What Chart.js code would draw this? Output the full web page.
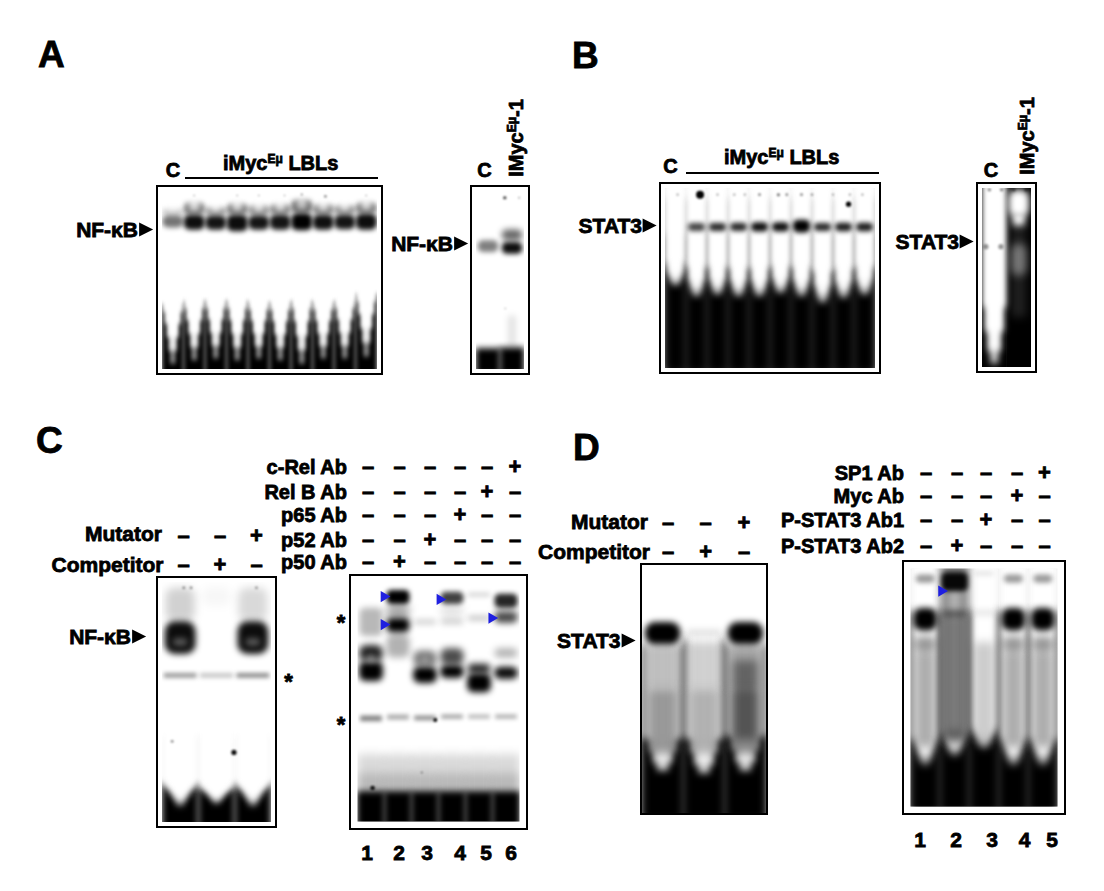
<!DOCTYPE html>
<html>
<head>
<meta charset="utf-8">
<script src="https://cdn.jsdelivr.net/npm/chart.js@4.4.1/dist/chart.umd.min.js"></script>
<style>
  body { margin: 0; background: #fff; }
  #fig { position: relative; width: 1104px; height: 891px; overflow: hidden;
         font-family: "Liberation Sans", Arial, Helvetica, sans-serif; font-weight: bold; color: #000; }
  .gel { position: absolute; border: 2px solid #000; box-sizing: border-box; background: #fff; overflow: hidden; }
  .gel canvas { display: block; }
  .t { position: absolute; white-space: nowrap; line-height: 1; -webkit-text-stroke: 0.8px #000; }
  .t sup { font-size: 0.6em; vertical-align: 0; position: relative; top: -0.55em; line-height: 0; }
  .tri { display: inline-block; width: 0; height: 0; border-left: 14px solid #000;
         border-top: 7.5px solid transparent; border-bottom: 7.5px solid transparent; margin-left: 1px; }
  .rule { position: absolute; height: 2px; background: #000; }
</style>
</head>
<body>
<div id="fig"></div>
<script>
// gel rows are [top, bottom, signal] in % of gel length from the wells, one per lane (null = nothing)

// ---- A: NF-kB in iMycEu LBLs ----
var aLanes = ['C', '1', '2', '3', '4', '5', '6', '7', '8', '9'];
var aNfkb = [[13.8, 20.5, 0.55], [13.3, 21.8, 0.95], [13.8, 21.8, 0.92], [13.3, 22.6, 0.95], [13.8, 21.8, 0.92],
             [13.3, 21.8, 0.92], [12.5, 22.0, 1], [13.3, 21.8, 0.94], [13.3, 21.5, 0.92], [12.8, 21.8, 0.95]];
var aNfkbSmear = [[10, 13.8, 0.2], [6.5, 13.3, 0.55], [9, 13.8, 0.4], [7, 13.3, 0.55], [8, 13.8, 0.45],
                  [7.5, 13.3, 0.5], [5, 12.5, 0.6], [7.5, 13.3, 0.5], [8, 13.3, 0.45], [6.5, 12.8, 0.55]];
var aSmileGap = [[3, 12.5, 0.5], [3, 11.5, 0.8], [3, 12, 0.8], [3, 11.5, 0.8], [3, 12, 0.8],
                 [3, 11.5, 0.8], [3, 10.5, 0.7], [3, 11.5, 0.8], [3, 11.5, 0.8], [3, 11, 0.8]];
var aProbeSpike = [64, 62, 62, 62, 63, 63, 62, 63, 62, 58];
var aProbeFront = [97, 95, 94, 95, 94, 95, 97, 94, 94, 93];
var aSpecks = [[1, 2.5, 0.8, 0.4], [3, 2.5, 0.8, 0.4], [4, 2.5, 0.8, 0.4], [5.2, 2.5, 0.8, 0.4], [6, 2, 1, 0.5], [7.1, 3, 1.2, 0.6], [9, 2.5, 0.8, 0.4]];

var a2Lanes = ['C', 'iMycEu-1'];
var a2Upper = [null, [21.6, 27.8, 0.6]];
var a2Lower = [[27.7, 34.2, 0.5], [28.7, 35.2, 0.95]];
var a2Smear = [null, [70, 88, 0.12]];
var a2Floor = [88.5, 88];
var a2Specks = [[0.7, 3.8, 1.6, 0.8], [1.3, 3.8, 0.9, 0.4], [0.72, 66, 0.7, 0.4]];

// ---- B: STAT3 in iMycEu LBLs ----
var bLanes = ['C', '1', '2', '3', '4', '5', '6', '7', '8', '9'];
var bStat3 = [null, [19.5, 23.9, 0.75], [19.5, 23.9, 0.85], [19.3, 23.9, 0.85], [19, 24.2, 0.95],
              [19, 24.2, 0.95], [17.7, 24.7, 1], [19.5, 23.9, 0.85], [19.3, 24, 0.9], [19.3, 24, 0.9]];
var bGrayTop = [6, 6, 6, 6, 6, 6, 6, 6, 6, 6];
var bDarkTop = [26, 24, 25, 25, 25, 25, 24, 25, 25, 25];
var bBlackTop = [44, 46, 45, 46, 46, 45, 46, 48, 46, 45];
var bFront = [53.7, 59.8, 58.9, 59.8, 59.8, 58, 59.8, 63.3, 60.7, 58.9];
var bSpecks = [[1.17, 3.7, 4, 1], [0.1, 3.7, 1.1, 0.4], [2, 3.7, 1.1, 0.4], [2.8, 3.7, 1.1, 0.4], [3.3, 3.7, 1.1, 0.4],
               [4, 3.7, 1.3, 0.5], [4.9, 3.7, 1.5, 0.6], [5.3, 3.7, 1.3, 0.5], [6, 3.7, 1.3, 0.5], [6.5, 3.7, 1.3, 0.4],
               [7.5, 3.7, 1.1, 0.4], [8.3, 3.7, 1.1, 0.4], [8.9, 3.7, 1.1, 0.4], [8.24, 9, 2.6, 1]];

var b2Lanes = ['C', 'iMycEu-1'];
var b2Front = [98, null];
var b2Top = [null, [1, 16, 1]];
var b2Neck = [null, [14, 21, 1]];
var b2Blob = [null, [31, 49, 0.4]];
var b2Trail = [null, [20, 72, 0.12]];
var b2Specks = [[-0.34, 32.8, 2.6, 0.4], [0.27, 32.8, 2.6, 0.4], [-0.2, 1, 1.8, 0.45], [0.3, 1, 1.8, 0.45], [0.8, 1, 1.8, 0.45], [1.3, 1, 1.8, 0.45]];

// ---- C: NF-kB competition / supershift ----
var cLanes = ['1', '2', '3'];
var cMutator = '--+';
var cCompetitor = '-+-';
var cBand = [[16.4, 30, 0.95], null, [16.4, 30, 0.95]];
var cBandCore = [[23.5, 26.5, 0.35], null, [23.5, 26.5, 0.35]];
var cSmear = [[2.4, 16.4, 0.18], [2, 10, 0.03], [2.4, 16.4, 0.15]];
var cFaint = [[37.9, 39.9, 0.4], [37.9, 39.9, 0.22], [37.9, 39.9, 0.45]];
var cProbeSpike = [84, 85, 84];
var cProbeFront = [93, 92, 93];
var cSpecks = [[1.48, 71, 2.6, 0.95], [-0.22, 66.4, 1.2, 0.6], [0.1, 2.4, 1.3, 0.5], [0.3, 2.4, 1.3, 0.5], [2.1, 2.4, 1.3, 0.45]];

var crLanes = ['1', '2', '3', '4', '5', '6'];
var crAbNames = ['c-Rel Ab', 'Rel B Ab', 'p65 Ab', 'p52 Ab', 'p50 Ab'];
var crAbSigns = ['-----+', '----+-', '---+--', '--+---', '-+----'];
var crTopBand = [null, [3.1, 9, 1], null, [3.9, 9, 0.75], [4.3, 5.9, 0.18], [4.7, 10.6, 0.85]];
var crUpperSmear = [null, [9, 14.9, 0.35], null, [9, 15, 0.1], null, [10.6, 12.2, 0.3]];
var crUpper = [[10.6, 22.4, 0.28], [14.9, 20.8, 1], [15.7, 17.3, 0.25], [15.7, 17.3, 0.25], [14.1, 15.7, 0.3], [12.2, 16.9, 0.7]];
var crMainUpper = [[26.3, 33, 0.9], [21.6, 31.4, 0.3], [28.6, 35.3, 0.55], [27.5, 34.5, 0.7], [34.1, 38, 0.9], [27.5, 31.4, 0.3]];
var crMainLower = [[33, 41.2, 1], null, [35.3, 42, 1], [34.5, 40, 1], [38, 45.9, 1], [35.3, 40.4, 0.95]];
var crMainCore = [[30, 33.5, 0.4], null, [31, 34, 0.3], null, null, null];
var crFaint = [[55.7, 58, 0.5], [55.3, 57.3, 0.35], [55.7, 57.6, 0.45], [55.3, 56.9, 0.4], [55.3, 56.9, 0.3], [55.3, 56.9, 0.35]];
var crHaze = [72, 72, 72, 72, 72, 72];
var crFloor = [87.5, 87.5, 87.5, 87.5, 87.5, 87.5];
var crArrows = [[0.48, 5.9], [0.48, 17.6], [2.55, 7.1], [4.47, 14.9]];
var crSpecks = [[2.38, 57.5, 2, 0.95], [0.06, 86, 2.3, 0.9], [1.88, 79.5, 1, 0.5]];
var crNumbers = ['1', '2', '3', '4', '5', '6'];

// ---- D: STAT3 competition / supershift ----
var dLanes = ['1', '2', '3'];
var dMutator = '--+';
var dCompetitor = '-+-';
var dBand = [[23, 32, 1], [26, 28.5, 0.12], [23, 32, 1]];
var dSmearHigh = [[32, 50, 0.25], [31, 50, 0.18], [32, 50, 0.35]];
var dSmearLow = [[50, 76, 0.4], [50, 76, 0.3], [50, 76, 0.45]];
var dSmearDark = [null, null, [38.4, 70.4, 0.4]];
var dGrayTop = [32, 30, 32];
var dProbeSpike = [70, 70, 69];
var dProbeFront = [83, 84, 83];

var drLanes = ['1', '2', '3', '4', '5'];
var drAbNames = ['SP1 Ab', 'Myc Ab', 'P-STAT3 Ab1', 'P-STAT3 Ab2'];
var drAbSigns = ['----+', '---+-', '--+--', '-+---'];
var drDarkTop = [18, 18, 18, 18, 18];
var drProbeSpike = [72, 70, 68, 72, 72];
var drProbeFront = [82, 78, 75, 82, 82];
var drLane2Dark = [null, [-3, 72, 0.5], null, null, null];
var drLane2Core = [null, [8, 68, 0.5], null, null, null];
var drWells = [[2.5, 6, 0.4], null, [1, 3, 0.1], [2.5, 6, 0.4], [2.5, 6, 0.4]];
var drTop = [null, [1.6, 9.5, 0.95], null, null, null];
var drBand = [[16.6, 26, 1], [17.4, 20.5, 0.45], [17.4, 19.8, 0.1], [16.6, 26, 1], [16.6, 26, 1]];
var drBand2 = [[28.5, 35, 0.4], null, null, [28.5, 35, 0.4], [28.5, 35, 0.4]];
var drSmear = [[35, 75, 0.32], [20, 74, 0.3], [31, 74, 0.2], [35, 75, 0.32], [35, 75, 0.32]];
var drArrows = [[0.555, 9.5]];
var drNumbers = ['1', '2', '3', '4', '5'];

// ------------------------------------------------------------------
var fig = document.getElementById('fig');

function shade(white, a) {
  return (white ? 'rgba(255,255,255,' : 'rgba(0,0,0,') + a + ')';
}

function layer(rows, o) {
  o = o || {};
  return {
    type: 'bar', xAxisID: 'x', yAxisID: 'y',
    data: rows.map(function (r) { return r ? [r[0], r[1]] : null; }),
    backgroundColor: rows.map(function (r) { return r ? shade(o.white, r[2]) : 'rgba(0,0,0,0)'; }),
    grouped: false, categoryPercentage: 1, barPercentage: o.w || 0.82,
    borderWidth: 0, borderSkipped: false, borderRadius: o.r || 0,
    blur: o.blur === undefined ? 2.5 : o.blur
  };
}

// a slab reaching past the bottom of the gel
function slab(tops, a, blur) {
  return layer(tops.map(function (t) { return t === null ? null : [t, 103, a]; }), { w: 1, blur: blur });
}

// lighter lane columns that narrow into a V where the free probe starts
function columns(spike, front, taper, a, blur) {
  return taper.map(function (tp) {
    return layer(spike.map(function (s, i) {
      return front[i] === null ? null : [-3, s + tp[1] * (front[i] - s), a];
    }), { w: tp[0], white: true, blur: blur });
  });
}

function specks(pts) {
  return {
    type: 'scatter', xAxisID: 'x2', yAxisID: 'y',
    data: pts.map(function (p) { return { x: p[0], y: p[1] }; }),
    pointRadius: pts.map(function (p) { return p[2]; }),
    backgroundColor: pts.map(function (p) { return 'rgba(0,0,0,' + p[3] + ')'; }),
    borderWidth: 0, blur: 0.8
  };
}

function arrows(pts) {
  return {
    type: 'scatter', xAxisID: 'x2', yAxisID: 'y',
    data: pts.map(function (p) { return { x: p[0], y: p[1] }; }),
    pointStyle: 'triangle', rotation: 90, pointRadius: 6.5,
    backgroundColor: '#1f1fe0', borderWidth: 0
  };
}

var blurPlugin = {
  id: 'gelBlur',
  beforeDatasetDraw: function (chart, args) {
    var ds = chart.data.datasets[args.index];
    chart.ctx.save();
    if (ds.blur) chart.ctx.filter = 'blur(' + ds.blur + 'px)';
  },
  afterDatasetDraw: function (chart) { chart.ctx.restore(); }
};

function gel(box, lanes, sets) {
  var wrap = document.createElement('div');
  wrap.className = 'gel';
  wrap.style.left = box[0] + 'px';
  wrap.style.top = box[1] + 'px';
  wrap.style.width = box[2] + 'px';
  wrap.style.height = box[3] + 'px';
  var cv = document.createElement('canvas');
  cv.width = box[2] - 4;
  cv.height = box[3] - 4;
  wrap.appendChild(cv);
  fig.appendChild(wrap);
  // first set is painted first
  sets.forEach(function (d, i) { d.order = sets.length - i; });
  new Chart(cv, {
    type: 'bar',
    data: { labels: lanes, datasets: sets },
    options: {
      responsive: false, animation: false, events: [],
      layout: { padding: 0 },
      plugins: { legend: { display: false }, tooltip: { enabled: false } },
      scales: {
        x: { type: 'category', display: false, offset: true },
        x2: { type: 'linear', display: false, offset: false, min: -0.5, max: lanes.length - 0.5 },
        y: { type: 'linear', display: false, min: 0, max: 100, reverse: true }
      }
    },
    plugins: [blurPlugin]
  });
}

var V5 = [[0.92, 0.12], [0.72, 0.32], [0.5, 0.55], [0.3, 0.78], [0.14, 1]];

// A
gel([156, 185, 227, 190], aLanes, [].concat(
  slab(aProbeSpike, 1, 2.4),
  columns(aProbeSpike, aProbeFront, V5, 1, 2.4),
  layer(aNfkbSmear, { w: 0.96, r: 5, blur: 2.5 }),
  layer(aSmileGap, { w: 0.5, white: true, r: 6, blur: 3 }),
  layer(aNfkb, { w: 0.98, r: 6, blur: 2.4 }),
  specks(aSpecks)
));
gel([470, 185, 60, 190], a2Lanes, [].concat(
  layer(a2Smear, { w: 0.3, blur: 3 }),
  slab(a2Floor, 1, 3),
  layer(a2Upper, { w: 0.85, r: 5, blur: 3 }),
  layer(a2Lower, { w: 0.85, r: 5, blur: 2.6 }),
  specks(a2Specks)
));

// B
gel([659, 182, 222, 192], bLanes, [].concat(
  slab(bLanes.map(function () { return -3; }), 0.07, 0),
  slab(bGrayTop, 0.3, 4),
  slab(bDarkTop, 0.6, 5),
  slab(bBlackTop, 1, 5),
  columns(bDarkTop, bFront, [[0.85, 0.55], [0.7, 0.78], [0.5, 0.9], [0.3, 1]], 1, 3.5),
  layer(bStat3, { w: 0.82, r: 5, blur: 2.4 }),
  specks(bSpecks)
));
gel([976, 182, 61, 191], b2Lanes, [].concat(
  slab([-3, -3], 1, 0),
  columns([0, 0], b2Front, [[0.9, 0.68], [0.72, 0.82], [0.5, 0.93], [0.28, 1]], 1, 3.5),
  layer(b2Trail, { w: 0.6, white: true, blur: 4 }),
  layer(b2Top, { w: 0.85, white: true, r: 8, blur: 3.5 }),
  layer(b2Neck, { w: 0.5, white: true, blur: 3.5 }),
  layer(b2Blob, { w: 0.65, white: true, r: 10, blur: 4.5 }),
  specks(b2Specks)
));

// C
gel([156, 576, 121, 252], cLanes, [].concat(
  slab([64, 64, 64], 0.05, 5),
  slab(cProbeSpike, 1, 3.5),
  columns(cProbeSpike, cProbeFront, V5, 1, 3.5),
  layer(cSmear, { w: 0.8, r: 8, blur: 4.5 }),
  layer(cBand, { w: 0.85, r: 10, blur: 3.2 }),
  layer(cBandCore, { w: 0.4, white: true, r: 4, blur: 3 }),
  layer(cFaint, { w: 0.9, blur: 2 }),
  specks(cSpecks)
));
gel([349, 574, 179, 256], crLanes, [].concat(
  slab(crHaze, 0.15, 5),
  slab(crHaze.map(function (h) { return h + 8; }), 0.15, 5),
  slab(crFloor, 1, 3),
  layer(crUpperSmear, { w: 0.8, blur: 4 }),
  layer(crTopBand, { w: 0.85, r: 5, blur: 2.6 }),
  layer(crUpper, { w: 0.85, r: 5, blur: 3 }),
  layer(crMainUpper, { w: 0.85, r: 6, blur: 3.5 }),
  layer(crMainLower, { w: 0.88, r: 6, blur: 3 }),
  layer(crMainCore, { w: 0.35, white: true, r: 4, blur: 3 }),
  layer(crFaint, { w: 0.8, blur: 2 }),
  specks(crSpecks),
  arrows(crArrows)
));

// D
gel([640, 563, 128, 252], dLanes, [].concat(
  slab(dGrayTop, 0.6, 5),
  slab(dProbeSpike, 1, 4),
  columns(dProbeSpike, dProbeFront, [[0.82, 0], [0.66, 0.4], [0.48, 0.75], [0.28, 1]], 0.8, 3.5),
  layer(dSmearHigh, { w: 0.78, blur: 4 }),
  layer(dSmearLow, { w: 0.74, blur: 5 }),
  layer(dSmearDark, { w: 0.6, blur: 5 }),
  layer(dBand, { w: 0.86, r: 10, blur: 3 })
));
gel([902, 560, 164, 255], drLanes, [].concat(
  slab(drLanes.map(function () { return -3; }), 0.06, 0),
  slab(drDarkTop, 0.7, 5),
  slab(drProbeSpike, 1, 5),
  columns(drProbeSpike, drProbeFront, [[0.75, 0], [0.6, 0.35], [0.42, 0.7], [0.22, 1]], 1, 4),
  layer(drLane2Dark, { w: 0.95, blur: 4 }),
  layer(drLane2Core, { w: 0.35, white: true, blur: 5 }),
  layer(drSmear, { w: 0.7, blur: 5 }),
  layer(drWells, { w: 0.65, r: 5, blur: 2.4 }),
  layer(drTop, { w: 0.9, r: 5, blur: 2.6 }),
  layer(drBand, { w: 0.8, r: 8, blur: 3 }),
  layer(drBand2, { w: 0.75, r: 6, blur: 4 }),
  arrows(drArrows)
));

// ---- text ----
function put(html, x, y, size, anchor, extra) {
  var el = document.createElement('div');
  el.className = 't';
  el.innerHTML = html;
  el.style.left = x + 'px';
  el.style.top = y + 'px';
  el.style.fontSize = size + 'px';
  var tx = anchor === 'r' ? '-100%' : anchor === 'c' ? '-50%' : '0';
  el.style.transform = 'translate(' + tx + ',-50%)' + (extra || '');
  fig.appendChild(el);
}
function rule(x0, x1, y) {
  var el = document.createElement('div');
  el.className = 'rule';
  el.style.left = x0 + 'px';
  el.style.top = (y - 1) + 'px';
  el.style.width = (x1 - x0) + 'px';
  fig.appendChild(el);
}
function signs(str, xs, y) {
  str.split('').forEach(function (s, i) { put(s === '-' ? '–' : '+', xs[i], y, 22, 'c'); });
}
var arrowHead = '<span class="tri"></span>';
var header = 'iMyc<sup>Eμ</sup> LBLs';
var vertical = 'IMyc<sup>Eμ</sup>-1';

put('A', 38, 53.5, 37, 'l');
put('B', 572, 54.5, 37, 'l');
put('C', 36, 440, 37, 'l');
put('D', 573, 446.5, 37, 'l');

// A
put(aLanes[0], 173, 170, 20, 'c');
put(header, 223, 162.5, 20, 'l');
rule(185, 378, 178);
put('NF-κB' + arrowHead, 153, 228.5, 21, 'r');
put('NF-κB' + arrowHead, 468, 242.5, 21, 'r');
put(a2Lanes[0], 484.5, 170, 20, 'c');
put(vertical, 515.5, 137.5, 20, 'c', ' rotate(-90deg)');

// B
put(bLanes[0], 670.5, 166, 20, 'c');
put(header, 724, 156.5, 20, 'l');
rule(686, 879, 173);
put('STAT3' + arrowHead, 657, 224.5, 21, 'r');
put('STAT3' + arrowHead, 974, 240.5, 21, 'r');
put(b2Lanes[0], 991, 170, 20, 'c');
put(vertical, 1026.5, 136, 20, 'c', ' rotate(-90deg)');

// C
put('Mutator', 162, 532.5, 21, 'r');
put('Competitor', 163.5, 564, 21, 'r');
signs(cMutator, [183.5, 220, 256.5], 536);
signs(cCompetitor, [183.5, 220, 256.5], 565);
put('NF-κB' + arrowHead, 146, 635.5, 21, 'r');
put('*', 288.5, 682, 22, 'c');
var crRowY = [467, 492, 515, 540, 562];
var crSignX = [368, 399.5, 430, 460, 487, 515];
crAbNames.forEach(function (n, i) {
  put(n, 347, crRowY[i], 20, 'r');
  signs(crAbSigns[i], crSignX, crRowY[i]);
});
put('*', 341, 623, 22, 'c');
put('*', 341, 725, 22, 'c');
var crNumX = [367, 399, 427, 460, 486, 511];
crNumbers.forEach(function (n, i) { put(n, crNumX[i], 852, 21, 'c'); });

// D
put('Mutator', 648, 520.5, 21, 'r');
put('Competitor', 650, 550.5, 21, 'r');
signs(dMutator, [668, 705.6, 744], 523);
signs(dCompetitor, [668, 705.6, 744], 552);
put('STAT3' + arrowHead, 635.5, 639.5, 21, 'r');
var drRowY = [473, 496, 520, 546];
var drSignX = [926, 957, 986, 1017, 1044.5];
drAbNames.forEach(function (n, i) {
  put(n, 904, drRowY[i], 20, 'r');
  signs(drAbSigns[i], drSignX, drRowY[i]);
});
var drNumX = [920, 956, 992, 1024.5, 1052];
drNumbers.forEach(function (n, i) { put(n, drNumX[i], 839, 21, 'c'); });
</script>
</body>
</html>
